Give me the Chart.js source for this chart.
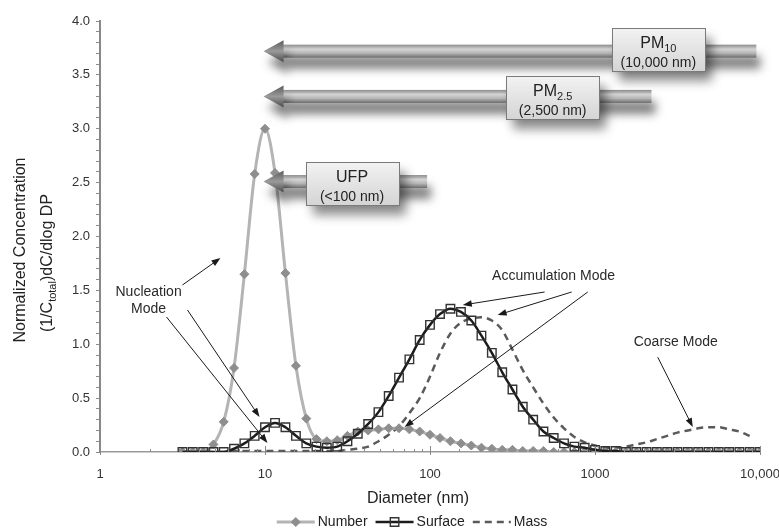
<!DOCTYPE html>
<html>
<head>
<meta charset="utf-8">
<script src="https://cdn.jsdelivr.net/npm/chart.js@4.4.1/dist/chart.umd.min.js"></script>
<style>
  html, body { margin: 0; padding: 0; background: #fff; }
  canvas { display: block; }
</style>
</head>
<body>
<canvas id="chart" width="779" height="529"></canvas>
<script>
// particle diameters (nm), 16 channels per decade
const diameters = [3.16, 3.65, 4.22, 4.87, 5.62, 6.49, 7.50, 8.66,
  10, 11.5, 13.3, 15.4, 17.8, 20.5, 23.7, 27.4, 31.6, 36.5, 42.2, 48.7, 56.2, 64.9, 75.0, 86.6,
  100, 115, 133, 154, 178, 205, 237, 274, 316, 365, 422, 487, 562, 649, 750, 866,
  1000, 1155, 1334, 1540, 1778, 2054, 2371, 2738, 3162, 3652, 4217, 4870, 5623, 6494, 7499, 8660,
  10000];

const numberConc = [0, 0, 0, 0.07, 0.28, 0.78, 1.65, 2.58,
  3.0, 2.59, 1.66, 0.80, 0.31, 0.12, 0.10, 0.11, 0.15, 0.19, 0.20, 0.21, 0.22, 0.22, 0.21, 0.19,
  0.16, 0.13, 0.10, 0.08, 0.06, 0.04, 0.03, 0.02, 0.02, 0.01, 0.01, 0.01, 0, 0, 0, 0,
  0, 0, 0, 0, 0, 0, 0, 0, 0, 0, 0, 0, 0, 0, 0, 0,
  0];

const surfaceConc = [0, 0, 0, 0, 0, 0.03, 0.08, 0.15,
  0.23, 0.27, 0.23, 0.15, 0.08, 0.05, 0.04, 0.05, 0.10, 0.17, 0.26, 0.37, 0.52, 0.69, 0.86, 1.04,
  1.18, 1.28, 1.33, 1.30, 1.22, 1.08, 0.92, 0.74, 0.58, 0.42, 0.30, 0.19, 0.13, 0.08, 0.05, 0.04,
  0.02, 0.01, 0.01, 0, 0, 0, 0, 0, 0, 0, 0, 0, 0, 0, 0, 0,
  0];

const massConc = [0, 0, 0, 0, 0, 0.01, 0.01, 0.01,
  0.01, 0.01, 0.01, 0.01, 0.01, 0.01, 0.01, 0.01, 0.02, 0.03, 0.05, 0.10, 0.16, 0.24, 0.36, 0.50,
  0.70, 0.92, 1.10, 1.20, 1.24, 1.25, 1.22, 1.13, 0.95, 0.76, 0.60, 0.45, 0.32, 0.22, 0.14, 0.09,
  0.06, 0.04, 0.04, 0.05, 0.07, 0.09, 0.12, 0.15, 0.18, 0.20, 0.22, 0.23, 0.23, 0.21, 0.19, 0.15];

const seriesNames = ['Number', 'Surface', 'Mass'];
const xTickLabels = { 1: '1', 10: '10', 100: '100', 1000: '1000', 10000: '10,000' };

// size-range bars (diameter from / to, height on y axis) and their label boxes
const sizeBars = [
  { from: 9.8, to: 9500, y: 3.72, boxX: 2420, boxY: 3.74, title: 'PM', sub: '10', note: '(10,000 nm)' },
  { from: 9.8, to: 2200, y: 3.30, boxX: 554, boxY: 3.29, title: 'PM', sub: '2.5', note: '(2,500 nm)' },
  { from: 9.8, to: 96, y: 2.51, boxX: 33.7, boxY: 2.49, title: 'UFP', sub: '', note: '(<100 nm)' }
];

// text notes and pointer lines, in axis units
const notes = [
  { text: 'Nucleation', x: 1.97, y: 1.488 },
  { text: 'Mode', x: 1.97, y: 1.326 },
  { text: 'Accumulation Mode', x: 561, y: 1.633 },
  { text: 'Coarse Mode', x: 3085, y: 1.021 }
];
const pointers = [
  [3.16, 1.55, 5.37, 1.80],
  [3.39, 1.318, 9.26, 0.325],
  [2.53, 1.253, 10.35, 0.084],
  [495, 1.485, 158, 1.364],
  [722, 1.485, 257, 1.271],
  [904, 1.485, 70.2, 0.232],
  [2400, 0.88, 3915, 0.232]
];

const FONT = '"Liberation Sans", Arial, Helvetica, sans-serif';
Chart.defaults.font.family = FONT;

const toPoints = arr => arr.map((v, i) => ({ x: diameters[i], y: v }));

function arrowLine(ctx, x1, y1, x2, y2) {
  const a = Math.atan2(y2 - y1, x2 - x1), L = 9, W = 3.3;
  ctx.beginPath();
  ctx.moveTo(x1, y1);
  ctx.lineTo(x2 - L * 0.6 * Math.cos(a), y2 - L * 0.6 * Math.sin(a));
  ctx.stroke();
  ctx.beginPath();
  ctx.moveTo(x2, y2);
  ctx.lineTo(x2 - L * Math.cos(a) + W * Math.sin(a), y2 - L * Math.sin(a) - W * Math.cos(a));
  ctx.lineTo(x2 - L * Math.cos(a) - W * Math.sin(a), y2 - L * Math.sin(a) + W * Math.cos(a));
  ctx.closePath();
  ctx.fill();
}

// draws [text, size, dy] parts centred on cx
function richText(ctx, parts, cx, baseY) {
  let total = 0;
  parts.forEach(p => { ctx.font = p[1] + 'px ' + FONT; total += ctx.measureText(p[0]).width; });
  let x = cx - total / 2;
  ctx.textAlign = 'left';
  ctx.textBaseline = 'alphabetic';
  parts.forEach(p => {
    ctx.font = p[1] + 'px ' + FONT;
    ctx.fillText(p[0], x, baseY + p[2]);
    x += ctx.measureText(p[0]).width;
  });
}

function bigArrow(ctx, xt, xe, yc) {
  const h = 6.5, hl = 20, hh = 11;
  ctx.save();
  ctx.shadowColor = 'rgba(0,0,0,0.5)';
  ctx.shadowBlur = 10;
  ctx.shadowOffsetX = 4;
  ctx.shadowOffsetY = 11;
  const g = ctx.createLinearGradient(0, yc - h, 0, yc + h);
  g.addColorStop(0, '#8c8c8c');
  g.addColorStop(0.35, '#d4d4d4');
  g.addColorStop(0.65, '#b6b6b6');
  g.addColorStop(1, '#6c6c6c');
  ctx.fillStyle = g;
  ctx.fillRect(xt + hl - 1, yc - h, xe - xt - hl + 1, 2 * h);
  const g2 = ctx.createLinearGradient(0, yc - hh, 0, yc + hh);
  g2.addColorStop(0, '#5a5a5a');
  g2.addColorStop(0.5, '#9a9a9a');
  g2.addColorStop(1, '#4a4a4a');
  ctx.fillStyle = g2;
  ctx.beginPath();
  ctx.moveTo(xt, yc);
  ctx.lineTo(xt + hl, yc - hh);
  ctx.lineTo(xt + hl, yc + hh);
  ctx.closePath();
  ctx.fill();
  ctx.restore();
}

function labelBox(ctx, cx, cy, bar) {
  const w = 93, h = 43, x0 = Math.round(cx - w / 2) + 0.5, y0 = Math.round(cy - h / 2) + 0.5;
  ctx.save();
  ctx.shadowColor = 'rgba(0,0,0,0.45)';
  ctx.shadowBlur = 10;
  ctx.shadowOffsetX = 6;
  ctx.shadowOffsetY = 9;
  const g = ctx.createLinearGradient(0, y0, 0, y0 + h);
  g.addColorStop(0, '#f2f2f2');
  g.addColorStop(1, '#d4d4d4');
  ctx.fillStyle = g;
  ctx.fillRect(x0, y0, w, h);
  ctx.restore();
  ctx.strokeStyle = '#7a7a7a';
  ctx.lineWidth = 1;
  ctx.strokeRect(x0, y0, w, h);
  ctx.fillStyle = '#222';
  const parts = [[bar.title, 16, 0]];
  if (bar.sub) parts.push([bar.sub, 11, 4]);
  richText(ctx, parts, cx, y0 + 19);
  richText(ctx, [[bar.note, 14, 0]], cx, y0 + 38);
}

const overlay = {
  id: 'overlay',
  afterDatasetsDraw(chart) {
    const { ctx, chartArea: area, scales: { x, y } } = chart;
    ctx.save();
    // x tick marks, drawn inward
    ctx.strokeStyle = '#8a8a8a';
    ctx.lineWidth = 1;
    x.ticks.forEach(t => {
      const lg = Math.log10(t.value);
      const major = Math.abs(lg - Math.round(lg)) < 1e-9;
      const px = Math.round(x.getPixelForValue(t.value)) + 0.5;
      ctx.beginPath();
      ctx.moveTo(px, area.bottom + (major ? 3 : 0));
      ctx.lineTo(px, area.bottom - (major ? 6 : 3));
      ctx.stroke();
    });
    // pointer lines
    ctx.strokeStyle = '#1a1a1a';
    ctx.fillStyle = '#1a1a1a';
    ctx.lineWidth = 1;
    pointers.forEach(p => arrowLine(ctx, x.getPixelForValue(p[0]), y.getPixelForValue(p[1]),
      x.getPixelForValue(p[2]), y.getPixelForValue(p[3])));
    // notes
    ctx.fillStyle = '#2a2a2a';
    ctx.font = '14px ' + FONT;
    ctx.textAlign = 'center';
    ctx.textBaseline = 'middle';
    notes.forEach(n => ctx.fillText(n.text, x.getPixelForValue(n.x), y.getPixelForValue(n.y)));
    // size-range bars
    sizeBars.forEach(b => bigArrow(ctx, x.getPixelForValue(b.from), x.getPixelForValue(b.to), y.getPixelForValue(b.y)));
    sizeBars.forEach(b => labelBox(ctx, x.getPixelForValue(b.boxX), y.getPixelForValue(b.boxY), b));
    ctx.restore();
  },
  afterDraw(chart) {
    const { ctx, chartArea: area } = chart;
    ctx.save();
    ctx.fillStyle = '#222';
    // x title
    ctx.font = '16px ' + FONT;
    ctx.textAlign = 'center';
    ctx.textBaseline = 'middle';
    ctx.fillText('Diameter (nm)', (area.left + area.right) / 2 - 12, 499);
    // y title, two rotated lines
    ctx.save();
    ctx.translate(21, 250);
    ctx.rotate(-Math.PI / 2);
    ctx.fillText('Normalized Concentration', 0, 0);
    ctx.restore();
    ctx.save();
    ctx.translate(46, 263);
    ctx.rotate(-Math.PI / 2);
    richText(ctx, [['(1/C', 16, 0], ['total', 11, 4], [')dC/dlog DP', 16, 0]], 0, 6);
    ctx.restore();
    // legend
    const ly = 522, sample = 38;
    ctx.font = '14px ' + FONT;
    const widths = seriesNames.map(n => ctx.measureText(n).width);
    const total = widths.reduce((a, w) => a + w + sample + 3, 0) + 2 * 8;
    let lx = 412 - total / 2;
    chart.data.datasets.forEach((ds, i) => {
      ctx.save();
      ctx.strokeStyle = ds.borderColor;
      ctx.lineWidth = ds.borderWidth;
      ctx.setLineDash(ds.borderDash || []);
      ctx.beginPath();
      ctx.moveTo(lx, ly);
      ctx.lineTo(lx + sample, ly);
      ctx.stroke();
      ctx.setLineDash([]);
      if (ds.pointRadius > 0) {
        ctx.fillStyle = ds.pointBackgroundColor;
        ctx.strokeStyle = ds.pointBorderColor;
        ctx.lineWidth = ds.pointBorderWidth;
        Chart.helpers.drawPoint(ctx, { pointStyle: ds.pointStyle, radius: ds.pointRadius, borderWidth: ds.pointBorderWidth, rotation: 0 }, lx + sample / 2, ly);
      }
      ctx.restore();
      ctx.fillStyle = '#222';
      ctx.textAlign = 'left';
      ctx.textBaseline = 'middle';
      ctx.fillText(ds.label, lx + sample + 3, ly);
      lx += sample + 3 + widths[i] + 8;
    });
    ctx.restore();
  }
};

new Chart(document.getElementById('chart'), {
  type: 'line',
  data: {
    datasets: [
      {
        label: seriesNames[0],
        data: toPoints(numberConc),
        borderColor: '#b4b4b4',
        borderWidth: 3,
        pointStyle: 'rectRot',
        pointRadius: 4.5,
        pointBackgroundColor: '#8e8e8e',
        pointBorderColor: '#8e8e8e',
        pointBorderWidth: 1,
        cubicInterpolationMode: 'monotone',
        order: 2
      },
      {
        label: seriesNames[1],
        data: toPoints(surfaceConc),
        borderColor: '#1c1c1c',
        borderWidth: 2.5,
        pointStyle: 'rect',
        pointRadius: 6,
        pointBackgroundColor: 'rgba(0,0,0,0)',
        pointBorderColor: '#333',
        pointBorderWidth: 1.4,
        cubicInterpolationMode: 'monotone',
        order: 1
      },
      {
        label: seriesNames[2],
        data: toPoints(massConc),
        borderColor: '#5a5a5a',
        borderWidth: 2.5,
        borderDash: [7, 5],
        pointRadius: 0,
        cubicInterpolationMode: 'monotone',
        order: 3
      }
    ]
  },
  options: {
    responsive: false,
    animation: false,
    layout: { padding: { top: 21, right: 19, left: 0, bottom: 0 } },
    plugins: { legend: { display: false }, tooltip: { enabled: false } },
    scales: {
      x: {
        type: 'logarithmic',
        min: 1,
        max: 10000,
        grid: { display: false, drawTicks: false },
        border: { color: '#999', width: 1.5 },
        ticks: {
          autoSkip: false,
          maxRotation: 0,
          padding: 15,
          color: '#333',
          font: { size: 13 },
          callback: v => xTickLabels[v] || ''
        },
        afterFit(s) { s.height = 77; s.paddingLeft = 0; s.paddingRight = 0; }
      },
      y: {
        min: 0,
        max: 4,
        grid: { drawOnChartArea: false, drawTicks: true, tickLength: 4, color: '#8a8a8a' },
        border: { color: '#888', width: 2 },
        ticks: {
          stepSize: 0.1,
          autoSkip: false,
          padding: 6,
          color: '#333',
          font: { size: 13 },
          callback: v => {
            const t = Math.round(v * 10);
            return t % 5 === 0 ? (t / 10).toFixed(1) : '';
          }
        },
        afterFit(s) { s.width = 100; }
      }
    }
  },
  plugins: [overlay]
});
</script>
</body>
</html>
